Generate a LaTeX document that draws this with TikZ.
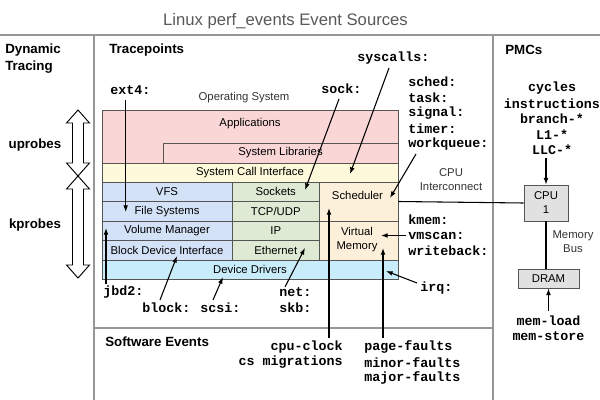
\documentclass[tikz,border=0pt]{standalone}
\usepackage{fontspec}
\setmainfont{Liberation Sans}
\setmonofont{Liberation Mono}
\usetikzlibrary{arrows.meta,fit}
\definecolor{appc}{RGB}{250,214,214}
\definecolor{sysc}{RGB}{253,249,218}
\definecolor{bluec}{RGB}{212,226,247}
\definecolor{greenc}{RGB}{223,234,212}
\definecolor{orangec}{RGB}{253,240,219}
\definecolor{cyanc}{RGB}{201,236,250}
\definecolor{grayc}{RGB}{225,225,225}
\definecolor{framec}{RGB}{150,150,150}
\definecolor{edgec}{RGB}{85,85,85}
\begin{document}
\begin{tikzpicture}[x=0.75pt,y=-0.75pt,
  box/.style={draw=edgec, line width=0.6pt, inner sep=0pt},
  btext/.style={inner sep=0pt, align=center, font=\fontsize{8.5}{10.5}\selectfont},
  code/.style={font=\ttfamily\bfseries\fontsize{10}{12}\selectfont, inner sep=0pt},
  hdr/.style={font=\bfseries\fontsize{10}{12}\selectfont, inner sep=0pt, anchor=west},
  small/.style={font=\fontsize{8.5}{10.5}\selectfont, inner sep=0pt, text=black!80, align=center},
  arr/.style={-{Latex[length=5pt,width=3.6pt]}, line width=0.8pt},
  frame/.style={draw=framec, line width=1.1pt},
  hollow/.style={draw=black, line width=0.7pt, line join=miter}]
\useasboundingbox (0,0) rectangle (600,400);
\fill[white] (0,0) rectangle (600,400);

% title and frame
\node[font=\fontsize{12.5}{14}\selectfont, text=black!65, inner sep=0pt] (title) at (285.5,21) {Linux perf\_events Event Sources};
\draw[frame] (0,35) -- (600,35);
\draw[frame] (94,35) -- (94,400);
\draw[frame] (493,35) -- (493,400);
\draw[frame] (94,328) -- (493,328);

% headers
\node[hdr] (dyn) at (5,50) {Dynamic};
\node[hdr] (dyn2) at (5,67) {Tracing};
\node[hdr] (tp) at (109,50) {Tracepoints};
\node[hdr] (pmc) at (505,50) {PMCs};
\node[hdr] (sw) at (105,342) {Software Events};
\node[hdr, anchor=center] (up) at (35,145) {uprobes};
\node[hdr, anchor=center] (kp) at (35,225) {kprobes};

% hollow double arrows
\path[fill=white] (78,110) -- (89.5,123) -- (83.5,123) -- (83.5,163) -- (89.5,163) -- (78,176) -- (66.5,163) -- (72.5,163) -- (72.5,123) -- (66.5,123) -- cycle;
\path[fill=white] (78,176) -- (89.5,189) -- (83.5,189) -- (83.5,265) -- (89.5,265) -- (78,278) -- (66.5,265) -- (72.5,265) -- (72.5,189) -- (66.5,189) -- cycle;
\draw[hollow] (78,110) -- (89.5,123) -- (83.5,123) -- (83.5,163) -- (89.5,163) -- (78,176) -- (66.5,163) -- (72.5,163) -- (72.5,123) -- (66.5,123) -- cycle;
\draw[hollow] (78,176) -- (89.5,189) -- (83.5,189) -- (83.5,265) -- (89.5,265) -- (78,278) -- (66.5,265) -- (72.5,265) -- (72.5,189) -- (66.5,189) -- cycle;

% operating system stack
\node[small] (os) at (244,98) {Operating System};
\node[box, fill=appc, fit={(102,110) (398,163)}] (apps) {};
\node[box, fill=appc, fit={(163,143) (398,163)}] (libs) {};
\node[box, fill=sysc, fit={(102,163) (398,182)}] (sci) {};
\node[box, fill=bluec, fit={(102,182) (232,201.5)}] (vfs) {};
\node[box, fill=bluec, fit={(102,201.5) (232,221)}] (fs) {};
\node[box, fill=bluec, fit={(102,221) (232,240.5)}] (vol) {};
\node[box, fill=bluec, fit={(102,240.5) (232,260)}] (bdi) {};
\node[box, fill=greenc, fit={(232,182) (319.5,201.5)}] (sockets) {};
\node[box, fill=greenc, fit={(232,201.5) (319.5,221)}] (tcp) {};
\node[box, fill=greenc, fit={(232,221) (319.5,240.5)}] (ip) {};
\node[box, fill=greenc, fit={(232,240.5) (319.5,260)}] (eth) {};
\node[box, fill=orangec, fit={(319.5,182) (398,221)}] (sched) {};
\node[box, fill=orangec, fit={(319.5,221) (398,260)}] (vm) {};
\node[box, fill=cyanc, fit={(102,260) (398,279.5)}] (dd) {};

\node[btext] (appst) at (250,123.5) {Applications};
\node[btext] (libst) at (libs) {System Libraries};
\node[btext] (scit) at (sci) {System Call Interface};
\node[btext] (vfst) at (vfs) {VFS};
\node[btext] (fst) at (fs) {File Systems};
\node[btext] (volt) at (vol) {Volume Manager};
\node[btext] (bdit) at (bdi) {Block Device Interface};
\node[btext] (sockt) at (sockets) {Sockets};
\node[btext] (tcpt) at (tcp) {TCP/UDP};
\node[btext] (ipt) at (ip) {IP};
\node[btext] (etht) at (eth) {Ethernet};
\node[btext] (schedt) at (357.5,195) {Scheduler};
\node[btext] (vmt) at (357,240) {Virtual\\Memory};
\node[btext] (ddt) at (dd) {Device Drivers};

% hardware
\node[small] (ic) at (451,179.5) {CPU\\Interconnect};
\node[box, fill=grayc, fit={(524,185) (568,221)}] (cpu) {};
\node[btext] (cput) at (546,203) {CPU\\1};
\node[box, fill=grayc, fit={(518,269) (579,288)}] (dram) {};
\node[btext] (dramt) at (dram) {DRAM};
\node[small] (bus) at (573,241.5) {Memory\\Bus};
\draw[line width=0.8pt] (sched.east) -- (cpu.west);
\draw[line width=0.8pt] (cpu.south) -- (cpu.south |- dram.north);

% tracepoint labels
\node[code, anchor=west] (ext4) at (110,90) {ext4:};
\node[code, anchor=west] (syscalls) at (357,58) {syscalls:};
\node[code, anchor=west] (sock) at (321,89) {sock:};
\node[code, anchor=west] (schedl) at (408,82) {sched:};
\node[code, anchor=west] (task) at (408,98) {task:};
\node[code, anchor=west] (signal) at (408,113.5) {signal:};
\node[code, anchor=west] (timer) at (408,129) {timer:};
\node[code, anchor=west] (wq) at (408,144.5) {workqueue:};
\node[code, anchor=west] (kmem) at (408,220) {kmem:};
\node[code, anchor=west] (vmscan) at (408,235.5) {vmscan:};
\node[code, anchor=west] (wb) at (408,251) {writeback:};
\node[code, anchor=west] (irq) at (420,288) {irq:};
\node[code, anchor=west] (jbd2) at (103,292) {jbd2:};
\node[code, anchor=west] (block) at (142,308) {block:};
\node[code, anchor=west] (scsi) at (200,308) {scsi:};
\node[code, anchor=west] (net) at (279,292) {net:};
\node[code, anchor=west] (skb) at (279,308) {skb:};

% software events
\node[code, anchor=east] (cpuclk) at (343,347) {cpu-clock};
\node[code, anchor=east] (csmig) at (343,362.5) {cs migrations};
\node[code, anchor=west] (pf) at (364,347) {page-faults};
\node[code, anchor=west] (minf) at (364,362.5) {minor-faults};
\node[code, anchor=west] (majf) at (364,378) {major-faults};

% PMCs
\node[code] (cycles) at (552,88) {cycles};
\node[code] (instr) at (552,103.5) {instructions};
\node[code] (branch) at (552,119) {branch-*};
\node[code] (l1) at (552,134.5) {L1-*};
\node[code] (llc) at (552,150) {LLC-*};
\node[code] (meml) at (548.5,320.5) {mem-load};
\node[code] (mems) at (548.5,336) {mem-store};

% arrow endpoints
\coordinate (ext4s) at (125.7,100);   \coordinate (ext4e) at (125.7,212);
\coordinate (jbd2s) at (106,284);     \coordinate (jbd2e) at (106,228);
\coordinate (blocks) at (160,300);    \coordinate (blocke) at (177,256);
\coordinate (scsis) at (213,300);     \coordinate (scsie) at (223,277);
\coordinate (nets) at (285,287);      \coordinate (nete) at (305,248);
\coordinate (socks) at (339,99);      \coordinate (socke) at (305,190);
\coordinate (sysS) at (389,68);       \coordinate (sysE) at (350,174);
\coordinate (wqs) at (416,154);       \coordinate (wqe) at (390,198);
\coordinate (vms) at (406,235.5);     \coordinate (vme) at (381,235.5);
\coordinate (irqs) at (417,283);      \coordinate (irqe) at (386,271);
\coordinate (clks) at (329,338);      \coordinate (clke) at (329,208);
\coordinate (pfs) at (383,338);       \coordinate (pfe) at (383,248);
\coordinate (llcs) at (546,158);
\coordinate (mems0) at (548.5,311);

\draw[arr] (ext4s) -- (ext4e);
\draw[arr] (jbd2s) -- (jbd2e);
\draw[arr] (blocks) -- (blocke);
\draw[arr] (scsis) -- (scsie);
\draw[arr] (nets) -- (nete);
\draw[arr] (socks) -- (socke);
\draw[arr] (sysS) -- (sysE);
\draw[arr] (wqs) -- (wqe);
\draw[arr] (vms) -- (vme);
\draw[arr] (irqs) -- (irqe);
\draw[arr] (clks) -- (clke);
\draw[arr] (pfs) -- (pfe);
\draw[arr] (llcs) -- (llcs |- cpu.north);
\draw[arr] (mems0) -- (dram.south);
\end{tikzpicture}
\end{document}
